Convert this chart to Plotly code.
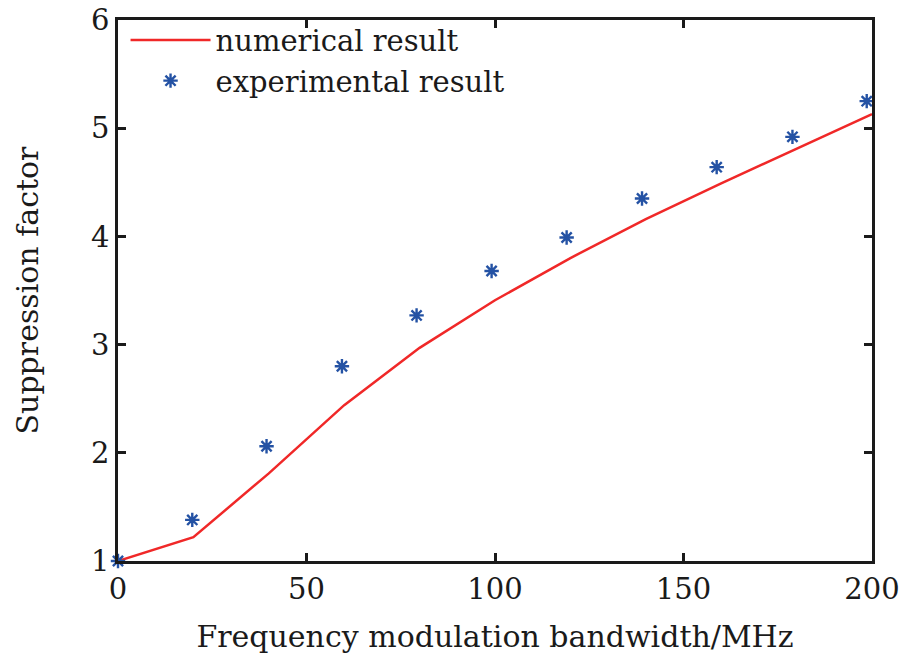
import plotly.graph_objects as go

# Numerical simulation: suppression factor vs. modulation bandwidth
bw_num = [0, 20, 40, 60, 80, 100, 120, 140, 160, 180, 200]
sf_num = [1.00, 1.22, 1.81, 2.44, 2.97, 3.41, 3.80, 4.16, 4.49, 4.81, 5.13]

# Measured values
bw_exp = [0, 19.7, 39.4, 59.4, 79.2, 99.1, 119.0, 139.0, 158.8, 178.9, 198.6]
sf_exp = [1.00, 1.38, 2.06, 2.80, 3.27, 3.68, 3.99, 4.35, 4.64, 4.92, 5.25]

x_ticks = [0, 50, 100, 150, 200]
y_ticks = [1, 2, 3, 4, 5, 6]

FONT = "DejaVu Serif"
TEXT = "#1a1a1a"
BLUE = "#2452a4"

fig = go.Figure()
fig.add_trace(go.Scatter(
    x=bw_num, y=sf_num, mode="lines", name="numerical result",
    line=dict(color="#f02828", width=2.5),
))
fig.add_trace(go.Scatter(
    x=bw_exp, y=sf_exp, mode="markers", name="experimental result",
    marker=dict(symbol="asterisk-open", size=12, color=BLUE,
                line=dict(color=BLUE, width=2.4)),
    cliponaxis=False,
))

axis_common = dict(
    showline=True, linecolor="#1a1a1a", linewidth=2.5, mirror="ticks",
    ticks="inside", ticklen=8, tickwidth=2.5, tickcolor="#1a1a1a",
    showgrid=False, zeroline=False, automargin=False,
    tickfont=dict(family=FONT, size=29, color=TEXT),
)

fig.update_xaxes(
    range=[0, 200], tickvals=x_ticks,
    title=dict(text="Frequency modulation bandwidth/MHz",
               font=dict(family=FONT, size=30, color=TEXT), standoff=22),
    **axis_common,
)
fig.update_yaxes(
    range=[1, 6], tickvals=y_ticks,
    title=dict(text="Suppression factor",
               font=dict(family=FONT, size=30, color=TEXT), standoff=44),
    **axis_common,
)

fig.update_layout(
    width=909, height=660,
    margin=dict(l=118, r=37, t=20, b=99),
    plot_bgcolor="white", paper_bgcolor="white",
    showlegend=True,
    legend=dict(
        x=0.01, y=1.01, xanchor="left", yanchor="top",
        bgcolor="rgba(0,0,0,0)", borderwidth=0,
        font=dict(family=FONT, size=29, color=TEXT),
        itemwidth=80, tracegroupgap=0,
    ),
)

fig.write_html("out.html")
